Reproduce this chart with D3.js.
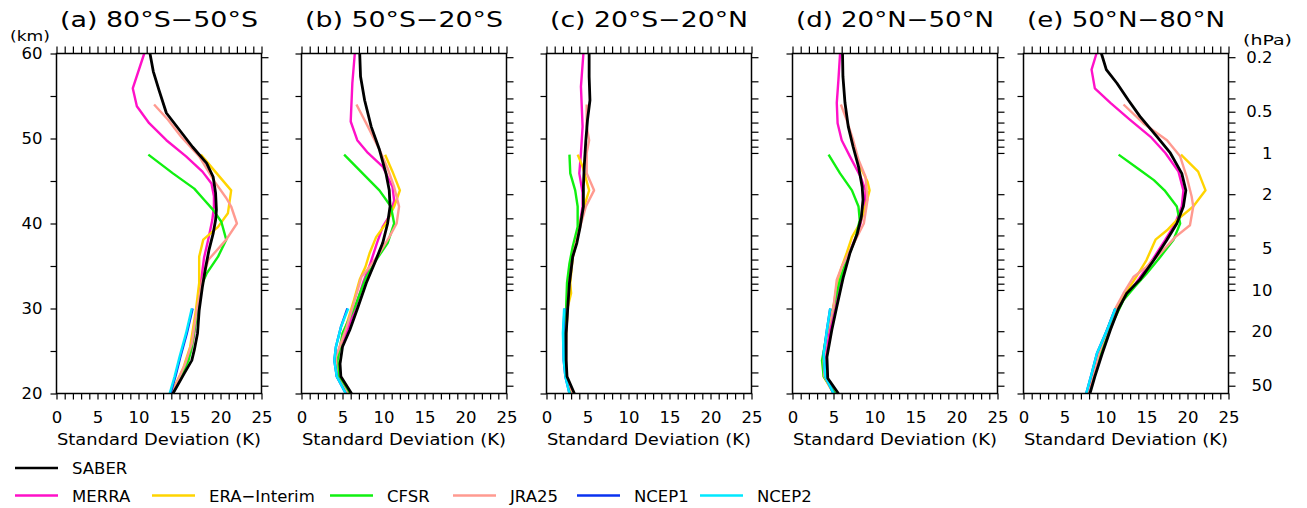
<!DOCTYPE html>
<html><head><meta charset="utf-8">
<script src="https://cdn.jsdelivr.net/npm/d3@7"></script>
<style>
body{margin:0;background:#fff}
svg{display:block}
text{font-family:"DejaVu Sans",sans-serif;fill:#000}
</style>
</head><body>
<svg id="chart" width="1307" height="508"></svg>
<script>
// ---------- labels / ticks ----------
const panelTitles = ["(a) 80°S−50°S","(b) 50°S−20°S","(c) 20°S−20°N","(d) 20°N−50°N","(e) 50°N−80°N"];
const xTickValues = d3.range(0, 26, 1);
const xLabelValues = [0, 5, 10, 15, 20, 25];
const altTickValues = [20, 25, 30, 35, 40, 45, 50, 55, 60];
const altLabelValues = [20, 30, 40, 50, 60];
const pTickValues = [0.2,0.3,0.4,0.5,0.6,0.7,0.8,0.9,1,2,3,4,5,6,7,8,9,10,20,30,40,50];
const pLabelValues = [0.2, 0.5, 1, 2, 5, 10, 20, 50];
const xAxisTitle = "Standard Deviation (K)";

const seriesNames  = ["MERRA","ERA−Interim","CFSR","JRA25","NCEP1","NCEP2","SABER"];
const seriesColors = ["#ff10c8","#ffd400","#10f010","#ff9a90","#0a32f0","#00e8ff","#000000"];

// ---------- data: [altitude km, std dev K] ----------
// (a) 80S-50S
const SABER_a = [[60,11.4],[57.9,11.8],[55.7,12.5],[53,13.4],[51,15.0],[49,16.6],[47.1,18.3],[45.5,19.1],[43.6,19.4],[41.6,19.5],[40.4,19.4],[38.8,19.1],[36.9,18.6],[34.9,18.2],[32.6,17.8],[29.8,17.4],[27.1,17.2],[25.1,16.8],[23.9,16.5],[22.4,15.6],[20,14.2]];
const MERRA_a = [[60,10.7],[55.9,9.3],[53.8,9.8],[51.8,11.3],[49.8,13.4],[47.9,15.8],[46.1,17.8],[44.7,18.9],[43.2,19.2],[42.0,19.2],[40.4,19.0],[38.1,18.5],[36,18.0],[33,17.6],[30,17.1],[27,16.8],[25,16.4],[23,15.6],[20,14.0]];
const ERA_a   = [[48.1,17.6],[43.9,21.3],[41.2,20.9],[39.6,19.7],[38.1,17.9],[36.1,17.4],[33.0,17.4],[29.8,17.0],[25.5,16.3],[23.1,15.5],[20,14.0]];
const CFSR_a  = [[48.1,11.2],[45.9,14.2],[44.1,16.8],[42.8,18.0],[41.6,19.1],[40.2,20.1],[38.1,20.7],[36.1,19.7],[34.1,18.3],[33.0,17.8],[29.8,17.2],[25.5,16.5],[23.9,16.1],[20,14.2]];
const JRA_a   = [[54.0,11.9],[52.2,13.6],[50.2,15.2],[47.9,17.4],[44.9,19.3],[43.0,20.7],[42.0,21.3],[40.0,22.0],[38.1,20.7],[35.7,18.5],[33.3,17.8],[29.8,17.1],[25.9,16.5],[23.5,15.7],[20,14.1]];
const NCEP1_a = [[30,16.6],[27.1,15.9],[24.3,15.1],[22,14.5],[20,13.9]];
const NCEP2_a = [[30,16.5],[27.1,15.8],[24.3,15.0],[22,14.4],[20,13.8]];
// (b) 50S-20S
const SABER_b = [[60,7.1],[57.3,7.2],[54.5,7.7],[51.4,8.5],[48.7,9.5],[45.9,10.3],[43.9,10.7],[42.0,10.8],[40.0,10.5],[37.7,9.9],[35.3,8.9],[33.0,7.9],[30.2,6.9],[27.5,5.9],[25.5,5.0],[23.5,4.7],[22.0,4.8],[20,6.1]];
const MERRA_b = [[60,6.5],[56.5,6.2],[52.0,6.0],[49.8,6.8],[48.3,8.1],[46.7,9.9],[44.3,11.1],[42.7,11.3],[41,10.8],[39.6,9.9],[37.7,9.2],[35.3,8.4],[33,7.5],[30.2,6.6],[27.5,5.6],[25.5,4.7],[23.9,4.3],[22,4.5],[20,5.7]];
const ERA_b   = [[48.1,10.2],[46.1,11.1],[43.9,12.0],[42.0,11.3],[40.0,10.3],[38.4,9.1],[36.5,8.3],[34.9,7.8],[33.4,7.1],[31,6.4],[27.8,5.4],[24.3,4.3],[22,4.4],[20,5.7]];
const CFSR_b  = [[48.1,5.2],[43.9,9.5],[42.0,10.9],[40.0,11.3],[37.7,10.5],[35.7,9.1],[33.7,7.9],[30.2,6.5],[27.1,5.0],[23.9,4.4],[22.0,4.5],[20,5.9]];
const JRA_b   = [[54.0,6.7],[51.4,8.1],[48.7,9.5],[46.5,10.5],[44.3,11.3],[42.0,11.9],[40.0,11.6],[38.4,10.7],[36.5,9.5],[34.9,8.3],[33.7,7.3],[31.0,6.5],[27.8,5.5],[24.3,4.2],[22.0,4.3],[20,5.6]];
const NCEP1_b = [[30,5.6],[27.8,4.8],[25.5,4.2],[23.9,4.0],[22,4.3],[20,5.4]];
const NCEP2_b = [[30,5.7],[27.8,4.8],[25.5,4.2],[23.9,4.0],[22.0,4.3],[20,5.4]];
// (c) 20S-20N
const SABER_c = [[60,5.2],[57.3,5.2],[54.5,5.3],[52.2,5.0],[49.8,4.8],[46.7,4.6],[44.3,4.5],[42.0,4.5],[39.6,4.1],[37.7,3.7],[36.1,3.2],[33.0,2.8],[30.2,2.6],[27.1,2.4],[23.9,2.4],[22.0,2.5],[20,3.4]];
const MERRA_c = [[60,4.5],[56.1,4.2],[51.4,4.4],[48.3,4.2],[45.9,4.0],[43.6,4.4],[42,4.4],[39.6,4.0],[37.7,3.6],[36,3.1],[33,2.7],[30.2,2.5],[27.1,2.3],[23.9,2.3],[22,2.4],[20,3.2]];
const ERA_c   = [[48.1,3.8],[46.7,4.4],[43.9,5.2],[42.0,4.6],[39.6,4.0],[37.7,3.6],[36,3.2],[33,2.9],[31.8,3.0],[30.2,2.6],[27.1,2.4],[23.9,2.3],[22,2.4],[20,3.1]];
const CFSR_c  = [[48.1,2.8],[45.9,2.9],[43.9,3.5],[42.0,3.8],[39.6,3.8],[37.3,3.2],[35.3,2.8],[33.0,2.5],[30.2,2.4],[27.1,2.3],[23.9,2.3],[22.0,2.4],[20,3.0]];
const JRA_c   = [[54.0,4.9],[51.4,4.9],[49.8,5.2],[48.3,4.9],[45.9,4.9],[43.9,5.8],[42.0,4.8],[39.6,4.1],[37.7,3.6],[36,3.2],[33,2.8],[30.2,2.6],[27.1,2.4],[23.9,2.4],[22,2.4],[20,3.2]];
const NCEP1_c = [[30,2.2],[27.1,2.05],[23.9,2.1],[22,2.3],[20,2.8]];
const NCEP2_c = [[30,2.15],[27.1,2.0],[23.9,2.1],[22.0,2.3],[20,2.8]];
// (d) 20N-50N
const SABER_d = [[60,6.1],[57.3,6.15],[54.2,6.4],[51.4,6.8],[49.0,7.4],[46.7,8.05],[44.3,8.5],[42.8,8.6],[40.8,8.4],[38.8,7.9],[36.5,7.0],[33.7,6.2],[30.2,5.4],[27.5,4.8],[24.3,4.2],[21.8,4.3],[20,5.6]];
const MERRA_d = [[60,5.8],[56.9,5.6],[54.2,5.4],[51.8,5.5],[49.8,6.0],[47.9,7.0],[45.5,8.3],[43.9,8.9],[42,8.8],[40,8.3],[38.4,7.7],[36.5,6.9],[33.7,6.0],[30.2,5.2],[27.1,4.5],[23.9,3.9],[22,4.0],[20,5.2]];
const ERA_d   = [[46.7,8.25],[44.9,9.15],[43.9,9.4],[42.0,8.9],[40.0,8.2],[38.4,7.25],[36.5,6.6],[34.9,6.0],[33.4,5.5],[30.2,5.0],[27.1,4.2],[23.9,3.7],[22,3.8],[20,5.0]];
const CFSR_d  = [[48.1,4.4],[45.9,5.8],[43.9,7.25],[42.0,8.05],[40.4,8.2],[38.1,7.65],[35.7,6.6],[33.4,5.8],[30.2,5.0],[27.1,4.2],[23.9,3.6],[22.0,3.8],[20,5.2]];
const JRA_d   = [[54.0,5.9],[52.2,6.6],[49.8,7.4],[47.5,8.05],[45.5,8.9],[42.8,9.15],[40.0,8.7],[38.4,7.85],[36.8,7.0],[34.9,6.0],[33.4,5.4],[30.2,5.0],[27.1,4.2],[23.9,3.8],[22.0,3.9],[20,5.0]];
const NCEP1_d = [[30,4.6],[27.5,4.2],[24.7,3.8],[22,4.0],[20,5.0]];
const NCEP2_d = [[30,4.6],[27.5,4.2],[24.7,3.8],[22,4.0],[20,5.0]];
// (e) 50N-80N
const SABER_e = [[60,9.5],[58.1,10.1],[56.5,11.4],[54.5,12.8],[52.6,14.2],[50.2,16.3],[48.3,17.9],[45.9,19.3],[43.9,19.8],[42.0,19.5],[40.0,18.7],[38.1,17.5],[35.7,15.9],[33.4,14.2],[31.8,12.6],[30.0,11.6],[27.5,10.6],[24.7,9.6],[22.0,8.7],[20,8.1]];
const MERRA_e = [[60,8.9],[58.1,8.3],[55.9,8.7],[54.2,10.6],[52.2,13.0],[50.2,15.5],[48.3,17.3],[46.1,18.9],[43.9,19.5],[42,19.3],[40,18.5],[38.1,17.3],[35.7,15.7],[33.4,14.0],[30,11.4],[27.5,10.4],[24.7,9.3],[22,8.4],[20,7.8]];
const ERA_e   = [[48.1,19.2],[46.1,21.3],[43.9,22.2],[42.0,20.7],[40.4,18.7],[39.2,17.5],[38.1,16.1],[35.7,15.0],[34.1,14.0],[32.6,13.0],[30,11.3],[27.5,10.2],[24.7,9.2],[22,8.4],[20,7.7]];
const CFSR_e  = [[48.1,11.6],[46.3,14.2],[45.1,15.9],[43.9,17.2],[42.0,18.7],[40.0,19.1],[38.1,18.3],[36.1,16.7],[34.1,15.0],[32.6,13.6],[31.0,12.2],[28.6,11.0],[25.5,9.75],[23.1,8.7],[20,7.7]];
const JRA_e   = [[54.0,12.2],[51.8,14.6],[49.8,17.5],[47.9,19.1],[45.5,19.9],[43.2,20.5],[42.0,20.7],[39.8,20.3],[38.4,18.5],[36.5,16.7],[34.9,15.0],[33.7,13.4],[31.8,12.2],[30.0,11.2],[27.5,10.2],[24.7,9.2],[22.0,8.5],[20,7.7]];
const NCEP1_e = [[30,11.2],[27.5,10.2],[24.7,8.95],[22.3,8.3],[20,7.65]];
const NCEP2_e = [[30,11.2],[27.5,10.2],[24.7,8.95],[22.3,8.3],[20,7.65]];

const MERRA = [MERRA_a, MERRA_b, MERRA_c, MERRA_d, MERRA_e];
const ERA   = [ERA_a, ERA_b, ERA_c, ERA_d, ERA_e];
const CFSR  = [CFSR_a, CFSR_b, CFSR_c, CFSR_d, CFSR_e];
const JRA   = [JRA_a, JRA_b, JRA_c, JRA_d, JRA_e];
const NCEP1 = [NCEP1_a, NCEP1_b, NCEP1_c, NCEP1_d, NCEP1_e];
const NCEP2 = [NCEP2_a, NCEP2_b, NCEP2_c, NCEP2_d, NCEP2_e];
const SABER = [SABER_a, SABER_b, SABER_c, SABER_d, SABER_e];
const seriesData = [MERRA, ERA, CFSR, JRA, NCEP1, NCEP2, SABER];

// ---------- layout ----------
const svg = d3.select("#chart");
const panelLefts = [56.5, 301.5, 546.5, 792.5, 1023.5];
const panelW = 205;
const plotTop = 53.5, plotBottom = 393.5;

const y = d3.scaleLinear().domain([20, 60]).range([plotBottom, plotTop]);
// pressure (hPa) -> altitude: z = 48.3 - 7 ln p
const pAt = z => Math.exp((48.3 - z) / 7);
const yP = d3.scaleLog().domain([pAt(20), pAt(60)]).range([plotBottom, plotTop]);

panelLefts.forEach((left, i) => {
  const x = d3.scaleLinear().domain([0, 25]).range([left, left + panelW]);
  const g = svg.append("g");

  // title
  g.append("text").attr("x", left + panelW / 2).attr("y", 27)
    .attr("text-anchor", "middle").attr("font-size", 21)
    .attr("textLength", 198).attr("lengthAdjust", "spacingAndGlyphs")
    .text(panelTitles[i]);

  // series lines
  seriesData.forEach((ser, k) => {
    const line = d3.line().x(d => x(d[1])).y(d => y(d[0]));
    g.append("path").datum(ser[i])
      .attr("d", line)
      .attr("fill", "none")
      .attr("stroke", seriesColors[k])
      .attr("stroke-width", k === 6 ? 2.8 : 2.4)
      .attr("stroke-linejoin", "round");
  });

  // box
  g.append("rect").attr("x", left).attr("y", plotTop).attr("width", panelW).attr("height", plotBottom - plotTop)
    .attr("fill", "none").attr("stroke", "#000").attr("stroke-width", 1.5);

  // bottom axis
  const ax = g.append("g").attr("transform", `translate(0,${plotBottom})`)
    .call(d3.axisBottom(x).tickValues(xTickValues).tickSize(6).tickPadding(12)
      .tickFormat(d => xLabelValues.includes(d) ? d : ""));
  // top axis
  const at = g.append("g").attr("transform", `translate(0,${plotTop})`)
    .call(d3.axisTop(x).tickValues(xTickValues).tickSize(7).tickFormat(""));
  // left axis
  const al = g.append("g").attr("transform", `translate(${left},0)`)
    .call(d3.axisLeft(y).tickValues(altTickValues).tickSize(6).tickPadding(8)
      .tickFormat(d => (i === 0 && altLabelValues.includes(d)) ? d : ""));
  // right axis (pressure)
  const ar = g.append("g").attr("transform", `translate(${left + panelW},0)`)
    .call(d3.axisRight(yP).tickValues(pTickValues).tickSize(7).tickPadding(10)
      .tickFormat(d => (i === 4 && pLabelValues.includes(d)) ? d : ""));

  [ax, at, al, ar].forEach(a => {
    a.select(".domain").remove();
    a.selectAll(".tick line").attr("stroke", "#000").attr("stroke-width", 1.2);
    a.selectAll("text").attr("font-size", 16.5).attr("font-family", "DejaVu Sans").attr("fill", "#000");
  });
  ar.selectAll("text").attr("text-anchor", "end").attr("x", 44);

  // x axis title
  g.append("text").attr("x", left + panelW / 2).attr("y", 444.5)
    .attr("text-anchor", "middle").attr("font-size", 15.5)
    .attr("textLength", 204).attr("lengthAdjust", "spacingAndGlyphs")
    .text(xAxisTitle);
});

// units
svg.append("text").attr("x", 30).attr("y", 41).attr("text-anchor", "middle")
  .attr("font-size", 14).attr("textLength", 40).attr("lengthAdjust", "spacingAndGlyphs").text("(km)");
svg.append("text").attr("x", 1267.5).attr("y", 45).attr("text-anchor", "middle")
  .attr("font-size", 14).attr("textLength", 49).attr("lengthAdjust", "spacingAndGlyphs").text("(hPa)");

// ---------- legend ----------
const legendRows = [
  {names: ["SABER"], y: 468, xs: [15]},
  {names: ["MERRA","ERA−Interim","CFSR","JRA25","NCEP1","NCEP2"], y: 495.5, xs: [15, 152, 330, 453, 577, 700]}
];
legendRows.forEach(row => {
  row.names.forEach((n, j) => {
    const k = seriesNames.indexOf(n);
    const lx = row.xs[j];
    svg.append("line").attr("x1", lx).attr("x2", lx + 43).attr("y1", row.y).attr("y2", row.y)
      .attr("stroke", seriesColors[k]).attr("stroke-width", 2.6);
    svg.append("text").attr("x", lx + 57).attr("y", row.y + 6.3)
      .attr("font-size", 16.5).text(n);
  });
});
</script>
</body></html>
